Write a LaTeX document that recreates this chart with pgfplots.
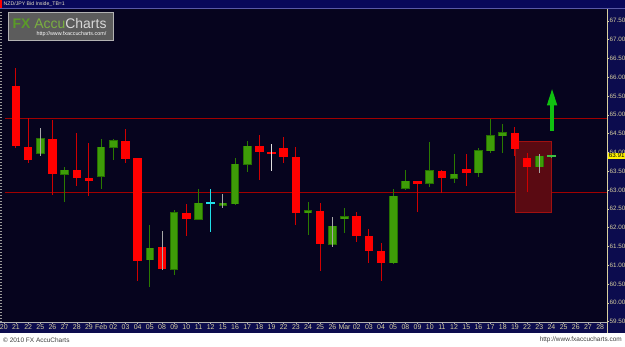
\documentclass[border=0pt]{standalone}
\usepackage{fontspec}
\setmainfont{Liberation Sans}
\usepackage{pgfplots}
\pgfplotsset{compat=1.18}
\usepackage{pgfplotstable}
\usetikzlibrary{arrows.meta}

\definecolor{bg}{HTML}{06041E}
\definecolor{navy}{HTML}{0C0C4E}
\definecolor{titlebar}{HTML}{08085A}
\definecolor{beige}{HTML}{D8D0A0}
\definecolor{cred}{HTML}{FF0000}
\definecolor{wred}{HTML}{D00000}
\definecolor{hline}{HTML}{A00000}
\definecolor{gbody}{HTML}{3E9C08}
\definecolor{gedge}{HTML}{267000}
\definecolor{gwick}{HTML}{2A7A00}
\definecolor{gray1}{HTML}{A8A8A8}
\definecolor{white1}{HTML}{E0E0E0}
\definecolor{cyan1}{HTML}{20E0E8}
\definecolor{ltgreen}{HTML}{40C040}
\definecolor{boxfill}{HTML}{5A0A12}
\definecolor{boxedge}{HTML}{A01010}
\definecolor{arrowg}{HTML}{10C010}
\definecolor{wmgray}{HTML}{5C5C5C}
\definecolor{wmgreen}{HTML}{5A9A28}
\definecolor{wmgreen2}{HTML}{7AB040}
\definecolor{wmwhite}{HTML}{D8D8D8}

% i open high low close
\pgfplotstableread{
i o h l c
1 65.77 66.24 64.11 64.17
2 64.15 64.91 63.71 63.80
4 64.36 64.86 62.87 63.42
6 63.53 64.52 63.11 63.32
7 63.32 64.24 62.84 63.25
10 64.31 64.62 63.71 63.83
11 63.86 63.86 60.58 61.12
15 62.40 62.63 61.78 62.22
21 64.16 64.46 63.27 64.02
23 64.12 64.42 63.71 63.88
24 63.88 64.14 62.07 62.40
26 62.44 62.65 60.85 61.56
29 62.31 62.41 61.62 61.78
30 61.78 61.96 61.07 61.38
31 61.38 61.58 60.58 61.07
34 63.24 63.25 62.42 63.17
36 63.51 63.53 62.91 63.31
38 63.56 63.96 63.11 63.46
42 64.51 64.68 63.90 64.10
43 63.86 63.98 62.94 63.61
}\redA
\pgfplotstableread{
i o h l c
13 61.48 61.91 60.87 60.89
}\redG
\pgfplotstableread{
i o h l c
22 64.02 64.22 63.51 63.97
}\redW
\pgfplotstableread{
i o h l c
5 63.42 63.60 62.69 63.52
8 63.37 64.35 63.03 64.14
9 64.14 64.37 63.80 64.31
12 61.14 62.07 60.43 61.45
14 60.89 62.47 60.74 62.40
16 62.22 63.02 62.21 62.65
19 62.63 63.86 62.60 63.68
20 63.68 64.30 63.49 64.17
25 62.39 62.69 61.80 62.44
28 62.24 62.52 61.85 62.29
32 61.07 63.02 61.02 62.84
33 63.05 63.53 63.00 63.24
35 63.18 64.28 63.07 63.51
37 63.31 63.96 63.19 63.42
39 63.46 64.11 63.35 64.05
40 64.05 64.88 63.99 64.44
41 64.44 64.76 63.99 64.52
}\grnA
\pgfplotstableread{
i o h l c
3 63.98 64.64 63.90 64.37
18 62.60 62.89 62.51 62.64
27 61.56 62.27 61.49 62.04
44 63.62 63.95 63.44 63.90
}\grnG
\pgfplotstableread{
i o h l c
17 62.64 63.02 61.89 62.68
}\cyn
\pgfplotstableread{
i o h l c
45 63.89 63.93 63.86 63.92
}\ltg

\pgfplotsset{
  wick/.style={draw=none, mark=none, forget plot,
    error bars/y dir=both, error bars/y explicit, error bars/error mark=none,
    error bars/error bar style={draw=#1, line width=1bp}},
  body/.style 2 args={draw=none, mark=none, forget plot,
    error bars/y dir=both, error bars/y explicit, error bars/error mark=none,
    error bars/error bar style={draw=#1, line width=#2}},
}
\newcommand{\wick}[2]{\addplot[wick=#1] table[x=i, y expr={(\thisrow{h}+\thisrow{l})/2}, y error expr={(\thisrow{h}-\thisrow{l})/2}] {#2};}
\newcommand{\body}[4]{\addplot[body={#1}{#2}] table[x=i, y expr={(\thisrow{o}+\thisrow{c})/2}, y error expr={max(abs(\thisrow{o}-\thisrow{c})/2,0.028)+#3}] {#4};}

\begin{document}
\begin{tikzpicture}[x=1bp,y=1bp]
\useasboundingbox (0,0) rectangle (625,346);
\fill[bg] (0,13) rectangle (625,337);
\fill[white] (0,0) rectangle (625,13);
% title bar
\fill[titlebar] (0,337) rectangle (625,346);
\draw[gray!70!blue, line width=0.6bp] (0,337.3) -- (625,337.3);
\fill[red] (0,338) rectangle (2,346);
\node[anchor=west, inner sep=0, font=\fontsize{5.2}{6}\selectfont, text=beige!60!white] at (3.5,341.8) {NZD/JPY Bid Inside\_TB=1};
% bottom and right strips
\fill[navy] (0,13) rectangle (625,24);
\fill[navy] (607,13) rectangle (625,337);
\draw[gray!60, line width=0.8bp] (0,23.6) -- (607,23.6);
\draw[beige, line width=0.6bp] (607.6,13) -- (607.6,337);
% left ruler
\draw[gray!80, line width=1.5bp, dash pattern=on 1bp off 2bp] (1.2,24) -- (1.2,336);

\begin{axis}[
  at={(3bp,24bp)}, anchor=south west,
  scale only axis, width=604bp, height=312bp,
  xmin=-0.066, xmax=49.565, ymin=59.489, ymax=67.787,
  clip=false,
  axis line style={draw=none},
  xtick={0,...,49},
  xticklabels={20,21,22,25,26,27,28,29,Feb,02,03,04,05,08,09,10,11,12,15,16,17,18,19,22,23,24,25,26,Mar,02,03,04,05,08,09,10,11,12,15,16,17,18,19,22,23,24,25,26,27,28},
  ytick={59.5,60,...,67.5},
  minor y tick num=4,
  xtick pos=left, ytick pos=right,
  xticklabel pos=left, yticklabel pos=right,
  tick align=outside,
  major tick length=2bp, minor tick length=1.2bp,
  xtick style={draw=gray!60, line width=0.5bp},
  ytick style={draw=beige, line width=0.5bp},
  /pgf/number format/.cd, fixed, fixed zerofill, precision=2, assume math mode=true, /pgfplots/.cd,
  xticklabel style={font=\fontsize{7}{8}\selectfont, text=beige, anchor=center, yshift=-3bp},
  yticklabel style={font=\fontsize{6.3}{7}\selectfont, text=beige, anchor=west, inner sep=0.5bp, xshift=0bp},
]
% horizontal lines
\addplot[hline, line width=1bp, forget plot] coordinates {(0.1,64.91) (49.565,64.91)};
\addplot[hline, line width=1bp, forget plot] coordinates {(0.1,62.94) (49.565,62.94)};
% shaded box
\addplot[fill=boxfill, draw=boxedge, line width=1bp, forget plot] coordinates {(42.01,64.30) (45.02,64.30) (45.02,62.40) (42.01,62.40) (42.01,64.30)};
% wicks behind bodies
\wick{wred}{\redA}
\wick{gwick}{\grnA}
% bodies
\body{cred}{8.5bp}{0}{\redA}
\body{cred}{8.5bp}{0}{\redG}
\body{cred}{8.5bp}{0}{\redW}
\body{gedge}{8.6bp}{0.012}{\grnA}
\body{gbody}{6.6bp}{0}{\grnA}
\body{gedge}{8.6bp}{0.012}{\grnG}
\body{gbody}{6.6bp}{0}{\grnG}
\body{cyan1}{8.5bp}{0}{\cyn}
\body{ltgreen}{9bp}{-0.01}{\ltg}
% wicks drawn over bodies
\wick{gray1}{\redG}
\wick{white1}{\redW}
\wick{gray1}{\grnG}
\wick{cyan1}{\cyn}
\wick{ltgreen}{\ltg}
% arrow
\addplot[arrowg, line width=3.2bp, -{Triangle[length=17bp, width=9.5bp]}, forget plot] coordinates {(45.05,64.58) (45.05,65.70)};
\coordinate (lp) at (axis cs:49.565,63.91);
\end{axis}

\node[anchor=west, fill=yellow, text=black, inner sep=0.6bp, font=\fontsize{6.3}{7}\selectfont] at ([xshift=1bp]lp) {63.91};

% watermark
\fill[wmgray] (8,306) rectangle (113,333.5);
\draw[gray!60, line width=0.5bp] (8,306) rectangle (113,333.5);
\node[anchor=base west, inner sep=0, font=\fontsize{14}{14}\selectfont] at (12.5,317.5)
  {\textcolor{wmgreen}{\textbf{FX}} \textcolor{wmgreen2}{Accu}\textcolor{wmwhite}{Charts}};
\node[anchor=east, inner sep=0, font=\fontsize{5.4}{6}\selectfont, text=white] at (106.5,312) {http://www.fxaccucharts.com/};

% footer
\node[anchor=west, inner sep=0, font=\fontsize{6.5}{7}\selectfont, text=black!75] at (3,6) {\textcopyright{} 2010 FX AccuCharts};
\node[anchor=east, inner sep=0, font=\fontsize{6.5}{7}\selectfont, text=black!75] at (622,6) {http://www.fxaccucharts.com};
\end{tikzpicture}
\end{document}
